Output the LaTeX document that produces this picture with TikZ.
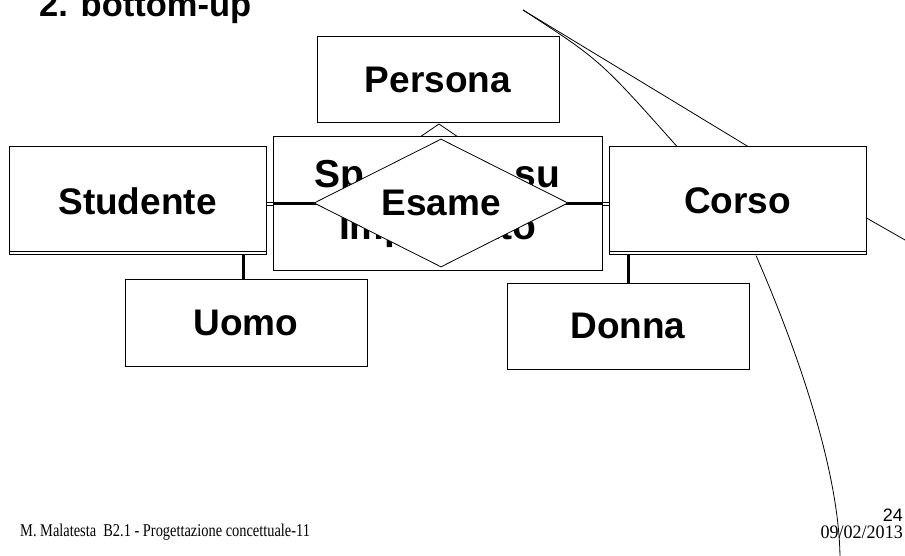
\documentclass[tikz,border=0pt]{standalone}
\usepackage{fontspec}
\setmainfont{Liberation Serif}
\setsansfont{Liberation Sans}
\usetikzlibrary{shapes.geometric}

\tikzset{
  box/.style={draw, fill=white, line width=1pt, inner sep=0pt, align=center,
    font=\sffamily\bfseries\fontsize{37}{40}\selectfont},
  link/.style={line width=3pt},
  eqlink/.style={double, line width=0.9pt, double distance=1.3pt},
  thinline/.style={line width=0.8pt}
}

\begin{document}
\begin{tikzpicture}[x=1pt,y=-1pt]
    \useasboundingbox (0,0) rectangle (905,556);

    % Title
    \node[anchor=base west, inner sep=0pt, font=\sffamily\bfseries\fontsize{34.5}{40}\selectfont] (title) at (39,17) {2. bottom-up};

    % Entities
    \node[box, minimum width=242pt, minimum height=86pt] (Persona) at (438,80) {Persona};
    \draw[thinline] (420,137) -- (439,124) -- (458,137);
    \node[box, minimum width=329pt, minimum height=133pt,
          font=\sffamily\bfseries\fontsize{39}{52}\selectfont] (Spec) at (437.5,203.5)
          {Sp\hspace{150pt}su\\Imp\hspace{69pt}ato};

    \node[box, minimum width=257pt, minimum height=108pt] (Studente) at (137.5,201) {Studente};
    \node[box, minimum width=257pt, minimum height=108pt] (Corso) at (737.5,201) {Corso};
    \foreach \n in {Studente,Corso} {
        \draw[line width=1pt] ([yshift=4pt]\n.south west) -- ([yshift=4pt]\n.south east);
    }

    \node[box, minimum width=242pt, minimum height=87pt] (Uomo) at (246,322.5) {Uomo};
    \node[box, minimum width=242pt, minimum height=86pt] (Donna) at (628,326) {Donna};

    % Relationship
    \draw[link] (441,204) -- (441,204 -| Spec.west);
    \draw[eqlink] (441,204 -| Spec.west) -- (441,204 -| Studente.east);
    \draw[link] (441,204) -- (441,204 -| Spec.east);
    \draw[eqlink] (441,204 -| Spec.east) -- (441,204 -| Corso.west);
    \node[diamond, draw, fill=white, aspect=2, inner sep=0pt, line width=0.8pt,
          minimum width=254pt, minimum height=128pt,
          font=\sffamily\bfseries\fontsize{37}{40}\selectfont] (Esame) at (441,203) {Esame};

    % Generalisation links
    \draw[link] ([xshift=105.5pt]Studente.south) -- ([xshift=105.5pt]Studente.south |- Uomo.north);
    \draw[link] ([xshift=-109.5pt]Corso.south) -- ([xshift=-109.5pt]Corso.south |- Donna.north);

    % Stray lines
    \coordinate (apex) at (523,10);
    \coordinate (rightend) at (905,240);
    \coordinate (lowend) at (840,560);
    \draw[thinline] (apex) .. controls (600,60) .. ([xshift=-60.5pt]Corso.north);
    \draw[thinline] (apex) -- ([xshift=10.5pt]Corso.north);
    \draw[thinline] ([yshift=-17pt]Corso.east) -- (rightend);
    \draw[thinline] ([xshift=18.5pt]Corso.south) .. controls (795,345) and (840,470) .. (lowend);

    % Footer
    \node[anchor=base west, inner sep=0pt, font=\fontsize{18}{20}\selectfont] (author) at (20,536)
        {\scalebox{0.8}[1]{M. Malatesta\ \ B2.1 - Progettazione concettuale-11}};
    \node[anchor=base east, inner sep=0pt, font=\sffamily\fontsize{18}{20}\selectfont] (page) at (903,521) {24};
    \node[anchor=base east, inner sep=0pt, font=\fontsize{19}{20}\selectfont] (date) at (903,538) {\scalebox{0.95}[1]{09/02/2013}};
\end{tikzpicture}
\end{document}
